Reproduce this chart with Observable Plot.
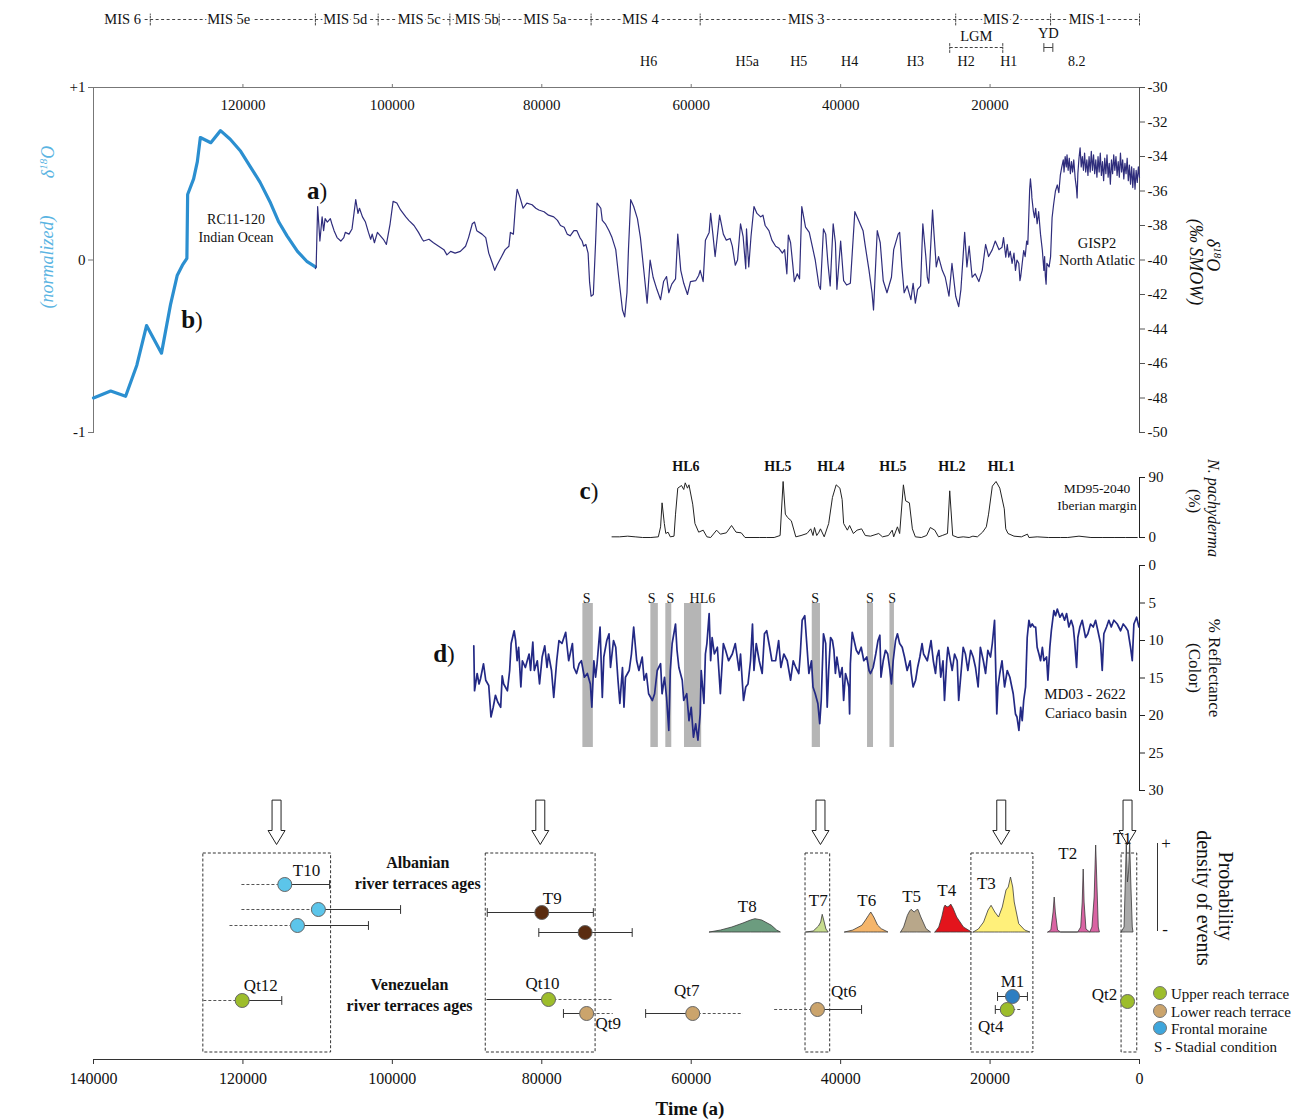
<!DOCTYPE html>
<html><head><meta charset="utf-8">
<script src="https://cdn.jsdelivr.net/npm/d3@7"></script>
<script src="https://cdn.jsdelivr.net/npm/@observablehq/plot@0.6"></script>
<style>
body{margin:0;background:#fff;}
#root{position:relative;width:1307px;height:1119px;overflow:hidden;background:#fff;font-family:"Liberation Serif","Times New Roman",serif;color:#111;}
#root svg{position:absolute;left:0;overflow:visible;background:transparent;}
.lbl{position:absolute;white-space:nowrap;line-height:1;}
</style></head><body><div id="root"></div>
<script>
// ---------------- DATA (ages in ka) ----------------
const misLabels = ["MIS 6","MIS 5e","MIS 5d","MIS 5c","MIS 5b","MIS 5a","MIS 4","MIS 3","MIS 2","MIS 1"];
const misCenters = [136.1, 121.9, 106.3, 96.4, 88.7, 79.6, 66.8, 44.6, 18.5, 7.0];
const misBounds = [132.4, 110.3, 101.9, 92.3, 85.7, 73.4, 58.8, 24.6, 11.9, 0];
const heinrichLabels = ["H6","H5a","H5","H4","H3","H2","H1","8.2"];
const heinrichAges = [65.7, 52.5, 45.6, 38.8, 30.0, 23.2, 17.5, 8.4];
const lgmSpan = [25.4, 18.3];
const ydSpan = [12.8, 11.6];
const topTicks = [120, 100, 80, 60, 40, 20];
const bottomTicks = [140, 120, 100, 80, 60, 40, 20, 0];

// b) RC11-120 Indian Ocean (normalized d18O)
const rc11Age = [140.0,137.7,135.7,134.2,132.9,130.9,129.7,128.8,128.1,127.5,127.4,126.6,126.1,125.7,124.3,123.0,121.7,120.3,119.0,117.7,116.3,115.2,114.1,112.7,111.4,110.3];
const rc11D18O = [-0.80,-0.76,-0.79,-0.61,-0.38,-0.54,-0.26,-0.09,-0.03,0.01,0.38,0.47,0.57,0.71,0.68,0.75,0.70,0.63,0.54,0.45,0.33,0.22,0.14,0.05,-0.01,-0.04];

// a) GISP2 d18O (permil SMOW)
const gisp2 = [
[110.3,-40.5],[110.2,-40.4],[110.0,-36.9],[109.7,-38.9],[109.4,-37.5],[109.2,-38.3],[109.0,-37.6],[108.7,-37.8],[108.3,-37.6],[108.1,-37.9],[107.8,-38.3],[107.4,-38.7],[106.9,-38.9],[106.5,-38.7],[106.3,-38.4],[105.8,-38.5],[105.4,-38.2],[104.9,-36.5],[104.6,-37.3],[104.4,-37.0],[104.0,-37.5],[103.6,-37.8],[103.2,-38.4],[102.9,-38.8],[102.7,-38.5],[102.4,-39.0],[102.0,-38.4],[101.6,-38.6],[101.2,-38.8],[100.8,-39.1],[100.3,-37.9],[99.9,-36.6],[99.4,-36.7],[98.9,-37.1],[98.2,-37.5],[97.8,-37.7],[97.1,-38.0],[96.5,-38.4],[96.0,-38.8],[95.8,-38.9],[95.1,-38.8],[94.5,-39.0],[93.8,-39.2],[93.1,-39.4],[92.7,-39.7],[92.2,-39.5],[91.6,-39.6],[90.9,-39.5],[90.2,-39.2],[89.8,-38.7],[89.3,-37.9],[89.0,-37.8],[88.7,-38.3],[88.0,-38.5],[87.5,-38.7],[87.1,-39.6],[86.6,-40.2],[86.3,-40.6],[86.0,-40.3],[85.5,-39.9],[84.9,-39.4],[84.4,-39.2],[84.2,-38.4],[83.8,-38.5],[83.5,-36.7],[83.3,-35.9],[82.9,-36.4],[82.5,-37.0],[82.0,-36.7],[81.3,-36.8],[80.8,-37.0],[80.4,-37.1],[79.7,-37.2],[79.1,-37.4],[78.4,-37.5],[77.9,-37.7],[77.5,-38.0],[77.0,-38.1],[76.6,-38.5],[76.2,-38.6],[75.7,-38.3],[75.3,-38.3],[74.9,-38.7],[74.6,-38.9],[74.4,-39.2],[74.1,-39.1],[73.8,-39.6],[73.6,-41.3],[73.4,-42.1],[73.1,-42.0],[72.8,-39.0],[72.6,-36.7],[72.1,-37.0],[71.9,-37.7],[71.5,-37.9],[71.0,-38.3],[70.6,-38.7],[70.1,-39.4],[69.7,-41.0],[69.2,-42.9],[68.9,-43.3],[68.6,-41.9],[68.4,-39.4],[68.1,-36.5],[67.7,-36.9],[67.2,-37.6],[66.8,-38.7],[66.3,-40.8],[65.9,-42.5],[65.5,-40.0],[65.1,-41.0],[64.6,-41.7],[64.1,-42.3],
[63.7,-41.25],[63.3,-40.96],[63.0,-41.9],[62.6,-41.4],[62.1,-41.1],[61.8,-38.5],[61.4,-40.6],[61.0,-41.35],[60.5,-42.0],[60.1,-41.25],[59.4,-41.2],[59.0,-40.9],[58.8,-40.6],[58.4,-41.25],[58.1,-38.85],[57.6,-38.4],[57.4,-37.3],[57.1,-38.5],[56.8,-39.8],[56.2,-37.4],[55.7,-38.5],[55.3,-38.85],[54.8,-38.75],[54.5,-39.2],[54.1,-40.3],[53.8,-40.0],[53.4,-37.9],[53.05,-38.65],[52.7,-40.5],[52.6,-38.2],[52.3,-40.4],[52.0,-38.65],[51.6,-36.9],[51.2,-37.3],[50.7,-37.5],[50.4,-37.4],[50.1,-38.0],[49.6,-38.3],[49.2,-38.85],[48.7,-39.2],[48.3,-39.3],[47.8,-39.6],[47.5,-39.4],[47.2,-40.8],[47.0,-38.55],[46.7,-39.0],[46.4,-40.3],[46.2,-41.25],[45.8,-40.8],[45.5,-41.1],[45.2,-36.9],[44.7,-38.1],[44.2,-38.4],[43.8,-39.2],[43.4,-40.0],[42.9,-41.5],[42.7,-41.7],[42.3,-38.2],[42.0,-38.5],[41.7,-40.2],[41.4,-41.5],[41.0,-37.9],[40.7,-39.0],[40.5,-41.7],[40.0,-38.9],[39.6,-41.2],[39.2,-41.45],[38.7,-41.35],[38.1,-37.2],[37.6,-37.7],[37.0,-38.3],[36.7,-39.2],[36.2,-40.6],[35.8,-41.9],[35.6,-42.9],[35.1,-38.3],[34.7,-39.0],[34.3,-41.2],[33.8,-41.9],[33.2,-41.0],[32.9,-39.4],[32.3,-38.5],[32.1,-38.4],[31.8,-40.4],[31.5,-41.9],[31.1,-41.5],[30.6,-42.3],[30.3,-41.35],[30.0,-42.5],[29.7,-41.7],[29.3,-41.5],[29.0,-37.9],[28.6,-39.8],[28.4,-41.0],[28.2,-41.35],[27.7,-37.1],[27.5,-38.5],[27.2,-40.4],[26.9,-39.8],[26.4,-40.6],[26.0,-41.0],[25.5,-42.1],[25.1,-40.2],[24.6,-42.1],[24.2,-42.7],[23.9,-41.7],[23.4,-38.4],[23.1,-40.4],[22.8,-39.2],[22.4,-41.0],[22.0,-40.8],[21.5,-41.25],[21.05,-40.6],[20.6,-39.1],[20.2,-39.8],[19.7,-39.4],[19.3,-38.9],[18.8,-39.4],
[18.4,-39.26],[18.2,-38.7],[17.9,-39.83],[17.7,-39.1],[17.5,-39.83],[17.3,-39.5],[17.05,-40.2],[16.8,-39.6],[16.6,-40.6],[16.4,-40.0],[16.15,-40.2],[16.0,-41.2],[15.9,-40.96],[15.7,-40.2],[15.5,-39.45],[15.3,-39.8],[15.1,-38.9],[14.95,-39.1],[14.8,-37.2],[14.7,-35.9],[14.6,-35.3],[14.45,-36.0],[14.4,-36.4],[14.2,-37.2],[14.05,-37.55],[13.9,-37.0],[13.7,-37.9],[13.5,-37.2],[13.25,-38.5],[13.0,-39.45],[12.8,-40.6],[12.7,-39.8],[12.6,-40.96],[12.5,-41.4],[12.4,-40.2],[12.1,-40.4],[11.9,-39.8],[11.7,-37.55],[11.5,-36.8],[11.25,-36.0],[11.0,-35.65],[10.8,-36.1],[10.6,-35.1],
[10.4,-34.6],[10.2,-34.2],[10.1,-34.9],[9.95,-34.0],[9.8,-34.6],[9.7,-33.9],[9.55,-34.8],[9.4,-34.1],[9.25,-35.0],[9.1,-34.3],[8.95,-34.9],[8.8,-34.2],[8.6,-35.3],[8.45,-35.8],[8.35,-36.4],[8.25,-35.0],[8.1,-34.1],[7.95,-33.5],[7.8,-34.6],[7.65,-34.0],[7.5,-34.8],[7.35,-33.8],[7.2,-34.9],[7.05,-34.2],[6.9,-35.1],[6.75,-34.0],[6.6,-34.9],[6.45,-33.7],[6.3,-34.8],[6.15,-33.9],[6.0,-35.0],[5.85,-34.2],[5.7,-35.2],[5.55,-34.0],[5.4,-34.9],[5.25,-33.8],[5.1,-35.1],[4.95,-34.3],[4.8,-35.4],[4.65,-34.1],[4.5,-35.0],[4.35,-33.9],[4.2,-35.2],[4.05,-34.4],[3.9,-35.6],[3.75,-34.2],[3.6,-35.0],[3.45,-33.9],[3.3,-34.8],[3.15,-34.0],[3.0,-35.1],[2.85,-34.3],[2.7,-35.2],[2.55,-33.8],[2.4,-34.9],[2.25,-34.2],[2.1,-35.3],[1.95,-34.4],[1.8,-35.0],[1.65,-34.1],[1.5,-35.4],[1.35,-34.5],[1.2,-35.6],[1.05,-34.6],[0.9,-35.8],[0.75,-34.7],[0.6,-35.9],[0.45,-34.8],[0.3,-35.5],[0.15,-34.6],[0.0,-35.2]
];

// c) MD95-2040 N. pachyderma (%)
const md95 = [
[70.6,1],[69.6,1],[68.5,2],[67.5,1],[66.5,0],[65.4,0],[64.4,1],[64.1,16],[63.9,52],[63.6,21],[63.4,6],[63.1,8],[62.8,1],[62.3,2],[62.1,35],[61.8,74],[61.3,78],[61.0,72],[60.8,82],[60.5,74],[60.3,79],[59.8,50],[59.5,21],[59.0,8],[58.4,11],[57.9,1],[57.4,0],[56.6,11],[56.1,5],[55.3,7],[54.6,18],[54.0,8],[53.3,7],[52.8,0],[52.0,0],[50.9,0],[49.9,0],[48.9,0],[48.1,3],[47.7,84],[47.4,35],[47.1,30],[46.6,25],[46.0,1],[45.3,3],[44.5,6],[44.0,13],[43.7,3],[43.5,15],[43.2,3],[42.9,8],[42.7,13],[42.2,1],[41.6,21],[41.1,60],[40.6,79],[40.1,74],[39.8,57],[39.6,21],[39.1,11],[38.8,18],[38.3,6],[37.8,11],[37.2,13],[36.7,3],[36.0,2],[34.9,6],[34.4,1],[33.6,3],[33.1,11],[32.9,1],[32.4,16],[32.1,6],[31.6,79],[31.3,55],[30.8,52],[30.4,13],[30.0,1],[29.2,0],[28.5,3],[28.0,15],[27.4,11],[26.9,1],[26.4,3],[25.7,6],[25.4,70],[25.0,3],[24.3,0],[23.6,1],[22.8,0],[22.3,2],[21.7,1],[21.0,8],[20.5,16],[20.2,35],[19.7,77],[19.2,84],[18.7,74],[18.1,43],[17.9,13],[17.6,6],[16.8,2],[15.8,1],[15.0,5],[14.8,0],[13.7,1],[12.2,0],[10.6,0],[9.6,0],[8.1,2],[6.5,0],[5.0,0],[3.4,0],[1.9,0],[0.3,0]
];
const hlLabels = ["HL6","HL5","HL4","HL5","HL2","HL1"];
const hlAges = [60.7, 48.4, 41.3, 33.0, 25.1, 18.5];

// d) MD03-2622 Cariaco basin reflectance (%)
const cariaco = [
[89.1,10.7],[89.0,16.7],[88.65,14.4],[88.4,15.8],[88.2,15.1],[87.8,13.1],[87.5,15.3],[87.1,16.0],[86.8,20.2],[86.5,18.9],[86.2,17.3],[85.9,18.2],[85.5,18.9],[85.3,14.7],[85.1,15.8],[84.6,16.7],[84.3,14.0],[84.1,10.4],[83.7,8.7],[83.5,10.0],[83.3,12.7],[83.1,10.9],[82.8,16.2],[82.6,12.7],[82.2,13.6],[81.7,11.8],[81.5,14.0],[81.2,10.2],[81.0,14.0],[80.6,12.7],[80.3,15.8],[79.95,12.2],[79.6,10.7],[79.3,13.6],[79.1,11.8],[78.7,14.0],[78.4,17.6],[78.0,12.7],[77.7,10.0],[77.3,10.4],[76.8,8.9],[76.6,10.9],[76.4,12.7],[75.9,10.4],[75.7,13.6],[75.35,14.4],[75.0,13.1],[74.7,12.7],[74.3,14.9],[73.9,14.4],[73.5,15.8],[73.3,18.9],[73.03,12.7],[72.8,14.9],[72.6,13.1],[72.2,8.2],[71.9,17.6],[71.7,12.2],[71.3,10.0],[71.0,9.1],[70.8,13.6],[70.4,10.0],[70.1,10.9],[69.8,15.3],[69.55,18.4],[69.2,13.6],[69.0,18.9],[68.8,14.9],[68.3,14.0],[68.0,11.8],[67.7,8.2],[67.3,12.7],[67.0,14.0],[66.56,12.2],[66.3,15.3],[66.0,14.4],[65.7,17.1],[65.2,18.0],[64.9,17.1],[64.55,14.0],[64.1,13.1],[63.9,17.1],[63.57,14.9],[63.3,17.6],[63.0,22.0],[62.8,14.0],[62.55,10.4],[62.1,7.8],[61.9,11.3],[61.65,13.6],[61.2,15.3],[61.0,18.0],[60.6,17.1],[60.3,20.7],[60.0,18.9],[59.7,22.9],[59.4,21.1],[59.1,23.3],[58.8,19.8],[58.66,14.0],[58.3,18.4],[58.1,11.8],[57.9,10.4],[57.6,6.4],[57.4,12.7],[57.2,9.6],[56.9,11.8],[56.5,10.9],[56.1,17.1],[55.7,10.4],[55.4,11.3],[55.0,12.7],[54.5,11.8],[54.1,10.4],[53.6,14.0],[53.4,11.8],[53.0,18.0],[52.7,16.2],[52.4,15.8],[52.06,12.7],[51.8,7.8],[51.6,14.0],[51.3,10.4],[50.9,12.7],[50.5,14.4],[50.2,9.1],[49.9,8.7],[49.5,10.9],[49.2,12.7],[48.7,12.7],[48.3,10.0],[48.0,13.6],[47.6,11.8],[47.15,12.7],[46.7,15.3],[46.35,12.7],[46.0,13.6],[45.6,14.4],
[45.4,11.8],[45.15,7.3],[44.8,6.7],[44.5,10.9],[44.25,14.4],[43.9,12.7],[43.7,16.2],[43.4,17.1],[43.05,18.4],[42.8,21.1],[42.6,18.0],[42.3,9.1],[42.0,10.4],[41.8,18.9],[41.6,14.0],[41.35,9.6],[41.1,10.0],[40.9,11.3],[40.7,14.4],[40.5,12.2],[40.1,14.9],[39.8,13.6],[39.6,18.0],[39.35,14.4],[39.1,15.3],[38.9,16.2],[38.8,19.8],[38.7,13.1],[38.45,8.9],[38.2,10.0],[37.9,11.3],[37.6,11.8],[37.25,10.9],[36.9,12.7],[36.5,12.2],[36.2,14.0],[36.0,14.4],[35.65,13.6],[35.3,11.8],[35.0,10.0],[34.75,9.3],[34.6,14.9],[34.3,12.7],[34.0,11.3],[33.7,11.8],[33.4,14.0],[33.2,15.8],[32.97,12.7],[32.65,10.0],[32.4,9.1],[32.1,10.4],[31.76,10.9],[31.45,12.2],[31.1,14.0],[30.7,12.7],[30.55,14.4],[30.3,16.2],[29.97,15.3],[29.7,13.6],[29.4,12.2],[29.1,10.4],[28.9,11.8],[28.4,12.7],[28.06,10.9],[27.9,10.0],[27.6,12.7],[27.3,14.4],[27.1,12.2],[26.85,11.3],[26.6,14.9],[26.3,12.7],[26.1,18.0],[25.8,12.7],[25.65,10.9],[25.4,12.2],[25.07,14.0],[24.75,11.8],[24.4,12.7],[24.2,18.0],[23.86,14.0],[23.6,10.9],[23.3,11.8],[22.97,14.0],[22.6,11.3],[22.26,12.2],[21.95,13.6],[21.6,16.2],[21.3,10.9],[20.9,12.7],[20.6,14.4],[20.3,11.3],[19.94,12.2],[19.7,10.4],[19.4,7.3],[19.1,19.8],[18.95,16.2],[18.7,14.4],[18.4,12.7],[18.06,16.2],[17.7,14.0],[17.35,14.9],[17.17,15.8],[16.9,17.1],[16.6,19.8],[16.4,20.2],[16.14,22.0],[15.9,18.9],[15.7,20.7],[15.5,18.0],[15.25,16.2],[15.03,9.6],[14.8,7.3],[14.6,8.2],[14.36,7.8],[14.1,8.2],[13.9,8.2],[13.7,10.9],[13.46,11.8],[13.24,12.7],[13.0,10.9],[12.8,12.7],[12.44,12.2],[12.26,15.3],[12.0,10.9],[11.8,8.7],[11.46,6.0],[11.24,6.7],[11.0,5.8],[10.65,6.9],[10.34,6.4],[10.03,7.3],[9.76,6.4],[9.45,8.2],[9.14,7.3],[8.87,8.2],[8.69,10.0],[8.42,13.6],[8.25,9.6],[7.98,8.2],[7.67,7.3],[7.22,9.6],[6.91,9.1],[6.55,7.8],[6.19,8.2],[5.88,7.3],[5.57,8.7],[5.21,10.4],[4.99,14.0],[4.77,9.1],[4.41,8.2],[4.1,7.3],[3.78,8.2],[3.43,7.3],[2.98,7.8],[2.53,8.7],[2.18,7.8],[1.86,8.2],[1.55,8.7],[1.2,10.9],[0.97,12.7],[0.75,7.8],[0.39,6.9],[0.08,8.2]
];
const stadialStart = [74.5, 65.4, 63.4, 60.9, 43.8, 36.4, 33.4];
const stadialEnd   = [73.1, 64.4, 62.6, 58.6, 42.7, 35.6, 32.8];
const stadialLabels = ["S","S","S","HL6","S","S","S"];
const stadialLabelAges = [74.0, 65.3, 62.8, 58.5, 43.4, 36.1, 33.1];

// e) terraces
const terraces = [
 {id:"T10a", kind:"T10", age:114.4, older:120.2, olderLine:"dashed", olderCap:false, younger:108.4, youngerLine:"solid", youngerCap:true, row:0},
 {id:"T10b", kind:"T10", age:109.9, older:120.2, olderLine:"dashed", olderCap:false, younger:98.9, youngerLine:"solid", youngerCap:true, row:2},
 {id:"T10c", kind:"T10", age:112.7, older:121.8, olderLine:"dashed", olderCap:false, younger:103.2, youngerLine:"solid", youngerCap:true, row:3.28},
 {id:"T9a", kind:"T9", age:80.0, older:87.3, olderLine:"solid", olderCap:true, younger:73.1, youngerLine:"solid", youngerCap:true, row:2.24},
 {id:"T9b", kind:"T9", age:74.2, older:80.4, olderLine:"solid", olderCap:true, younger:67.9, youngerLine:"solid", youngerCap:true, row:3.84},
 {id:"Qt12", kind:"upper", age:120.1, older:125.3, olderLine:"dashed", olderCap:false, younger:114.8, youngerLine:"solid", youngerCap:true, row:9.28},
 {id:"Qt10", kind:"upper", age:79.1, older:87.4, olderLine:"solid", olderCap:false, younger:70.5, youngerLine:"dashed", youngerCap:false, row:9.2},
 {id:"Qt9", kind:"lower", age:74.0, older:77.1, olderLine:"solid", olderCap:true, younger:70.5, youngerLine:"dashed", youngerCap:false, row:10.32},
 {id:"Qt7", kind:"lower", age:59.8, older:66.1, olderLine:"solid", olderCap:true, younger:53.1, youngerLine:"dashed", youngerCap:false, row:10.32},
 {id:"Qt6", kind:"lower", age:43.1, older:48.9, olderLine:"dashed", olderCap:false, younger:37.2, youngerLine:"solid", youngerCap:true, row:10},
 {id:"M1", kind:"moraine", age:17.0, older:19.0, olderLine:"solid", olderCap:true, younger:15.0, youngerLine:"solid", youngerCap:true, row:8.96},
 {id:"Qt4", kind:"upper", age:17.7, older:19.3, olderLine:"solid", olderCap:true, younger:15.9, youngerLine:"dashed", youngerCap:false, row:10},
 {id:"Qt2", kind:"upper", age:1.6, older:null, olderLine:null, olderCap:false, younger:null, youngerLine:null, youngerCap:false, row:9.36}
];
const terraceLabels = [
 ["T10",111.5,-1.1],["T9",78.6,1.1],["Qt12",117.6,8.1],["Qt10",79.9,7.9],["Qt9",71.1,11.1],["Qt7",60.6,8.5],["Qt6",39.6,8.6],["M1",17.0,7.8],["Qt4",19.9,11.4],["Qt2",4.7,8.8],
 ["T8",52.5,1.8],["T7",43.0,1.3],["T6",36.5,1.3],["T5",30.5,1.0],["T4",25.8,0.5],["T3",20.5,-0.1],["T2",9.6,-2.5],["T1",2.3,-3.7]
];
const groupLabels = [["Albanian\nriver terraces ages",96.6,-1.0],["Venezuelan\nriver terraces ages",97.7,8.72]];
const highlightAges = [115.5, 80.2, 42.7, 18.5, 1.6];
const boxOlder = [125.3, 87.5, 44.7, 22.5, 2.4];
const boxYounger = [108.2, 72.8, 41.4, 14.2, 0.3];

const densT8 = [[57.5,0],[56.0,0.02],[54.5,0.05],[53.0,0.09],[52.0,0.12],[51.4,0.133],[50.5,0.12],[49.2,0.067],[48.5,0.02],[48.0,0]];
const densT7 = [[44.6,0],[43.6,0.01],[42.9,0.06],[42.6,0.1],[42.4,0.177],[42.2,0.12],[41.9,0.03],[41.6,0]];
const densT6 = [[39.4,0],[38.3,0.02],[37.1,0.067],[36.6,0.12],[36.2,0.167],[35.9,0.2],[35.5,0.15],[35.0,0.07],[34.5,0.033],[33.6,0]];
const densT5 = [[31.9,0],[31.5,0.05],[31.0,0.167],[30.7,0.21],[30.5,0.227],[30.1,0.2],[29.8,0.22],[29.6,0.227],[29.2,0.15],[28.5,0.033],[27.9,0]];
const densT4 = [[27.3,0],[26.8,0.05],[26.4,0.15],[26.1,0.25],[25.95,0.27],[25.7,0.25],[25.4,0.26],[25.2,0.28],[24.9,0.24],[24.4,0.15],[23.5,0.05],[22.4,0]];
const densT3 = [[22.2,0],[21.5,0.03],[20.8,0.1],[20.2,0.22],[19.8,0.267],[19.3,0.2],[18.8,0.15],[18.3,0.25],[17.8,0.42],[17.5,0.45],[17.2,0.55],[16.9,0.45],[16.7,0.3],[16.1,0.083],[15.3,0.02],[14.6,0]];
const densT2 = [[12.2,0],[11.8,0.02],[11.5,0.2],[11.35,0.35],[11.2,0.2],[10.9,0.02],[10.5,0],[8.2,0],[7.8,0.05],[7.6,0.3],[7.47,0.63],[7.35,0.3],[7.1,0.03],[6.6,0],[6.3,0.05],[6.0,0.35],[5.8,0.87],[5.6,0.4],[5.45,0.05],[5.3,0]];
const densT1 = [[2.4,0],[2.0,0.05],[1.8,0.6],[1.7,0.9],[1.55,0.5],[1.4,0.6],[1.25,0.9],[1.1,0.5],[0.9,0.05],[0.8,0]];

// ---------------- STYLES ----------------
const serif = '"Liberation Serif","Times New Roman",serif';
const kindColor = {T10:"#5cc5ea", T9:"#5a2c10", upper:"#9dbd2b", lower:"#cba46c", moraine:"#2d7ec2"};
const densSeries = [["T8",densT8,"#6c9c7f"],["T7",densT7,"#c7dc8e"],["T6",densT6,"#f4b56b"],["T5",densT5,"#b8a78a"],["T4",densT4,"#e3141c"],["T3",densT3,"#fff07a"],["T2",densT2,"#d964a3"],["T1",densT1,"#a9a9a9"]];
const ka = v => v * 1000;

const root = document.getElementById("root");
function place(svg, top) {
  svg.style.position = "absolute"; svg.style.top = top + "px"; svg.style.left = "0px";
  svg.style.overflow = "visible"; svg.style.background = "transparent";
  svg.style.fontFamily = serif; svg.style.fontSize = "15px"; svg.style.color = "#111";
  svg.style.maxWidth = "none";
  root.appendChild(svg); return svg;
}
function base(o) {
  return Object.assign({width: 1307, marginLeft: 93, marginRight: 168, x: {domain: [140000, 0], axis: null}}, o);
}
const vline = {draw(ctx, l) { ctx.moveTo(0, 0); ctx.lineTo(0, -l); }};
const hollowArrow = {draw(ctx, l) {
  const hw = 4.5, HW = 8.5, hl = 14;
  ctx.moveTo(-hw, 0); ctx.lineTo(-hw, -(l - hl)); ctx.lineTo(-HW, -(l - hl)); ctx.lineTo(0, -l);
  ctx.lineTo(HW, -(l - hl)); ctx.lineTo(hw, -(l - hl)); ctx.lineTo(hw, 0); ctx.closePath();
}};

// ---------------- HEADER ----------------
const row = r => () => r;
place(Plot.plot(base({
  height: 75, marginTop: 18, marginBottom: 13,
  y: {type: "point", domain: ["MIS","sub","bar","H"], padding: 0, axis: null},
  marks: [
    Plot.link([0], {x1: () => ka(misCenters[0]), x2: () => ka(misBounds[misBounds.length - 1]), y1: row("MIS"), y2: row("MIS"), stroke: "#444", strokeWidth: 1, strokeDasharray: "3,2.5"}),
    Plot.text(misLabels, {x: (d, i) => ka(misCenters[i]), y: row("MIS"), text: d => d, fill: "#111", stroke: "white", strokeWidth: 5, fontSize: 14.5}),
    Plot.vector(misBounds, {x: d => ka(d), y: row("MIS"), length: 11, anchor: "middle", shape: vline, stroke: "#444", strokeWidth: 1, strokeDasharray: "2,1.5"}),
    Plot.link([0], {x1: () => ka(lgmSpan[0]), x2: () => ka(lgmSpan[1]), y1: row("bar"), y2: row("bar"), stroke: "#444", strokeWidth: 1, strokeDasharray: "3,2"}),
    Plot.vector(lgmSpan, {x: d => ka(d), y: row("bar"), length: 10, anchor: "middle", shape: vline, stroke: "#444", strokeWidth: 1, strokeDasharray: "2,1.5"}),
    Plot.text(["LGM"], {x: () => ka((lgmSpan[0] + lgmSpan[1]) / 2), y: row("sub"), text: d => d, fill: "#111", fontSize: 14.5, dy: 3}),
    Plot.link([0], {x1: () => ka(ydSpan[0]), x2: () => ka(ydSpan[1]), y1: row("bar"), y2: row("bar"), stroke: "#444", strokeWidth: 1}),
    Plot.vector(ydSpan, {x: d => ka(d), y: row("bar"), length: 8, anchor: "middle", shape: vline, stroke: "#444", strokeWidth: 1}),
    Plot.text(["YD"], {x: () => ka((ydSpan[0] + ydSpan[1]) / 2), y: row("sub"), text: d => d, fill: "#111", fontSize: 14.5}),
    Plot.text(heinrichLabels, {x: (d, i) => ka(heinrichAges[i]), y: row("H"), text: d => d, fill: "#111", fontSize: 14})
  ]
})), 0);

// ---------------- PANEL b (RC11-120, left axis) ----------------
place(Plot.plot(base({
  height: 360, marginTop: 7, marginBottom: 8,
  y: {domain: [-1, 1], axis: null},
  marks: [
    Plot.frame({anchor: "top", stroke: "#777"}),
    Plot.frame({anchor: "left", stroke: "#777"}),
    Plot.axisX({anchor: "top", ticks: topTicks.map(ka), tickSize: 4, tickPadding: -26, tickFormat: d => String(d), stroke: "#777", fontSize: 15}),
    Plot.axisY({anchor: "left", ticks: [-1, 0, 1], tickSize: 5, tickPadding: 3, tickFormat: d => d > 0 ? "+" + d : String(d), stroke: "#777", fontSize: 15}),
    Plot.line(rc11Age, {x: d => ka(d), y: (d, i) => rc11D18O[i], stroke: "#2b8fd0", strokeWidth: 3.2, strokeLinejoin: "round"})
  ]
})), 80);

// ---------------- PANEL a (GISP2, right axis) ----------------
place(Plot.plot(base({
  height: 360, marginTop: 7, marginBottom: 8,
  y: {domain: [-50, -30], axis: null},
  marks: [
    Plot.frame({anchor: "right", stroke: "#555"}),
    Plot.axisY({anchor: "right", ticks: d3.range(-50, -29, 2), tickSize: 5, tickPadding: 3, tickFormat: d => String(d), stroke: "#555", fontSize: 15}),
    Plot.line(gisp2, {x: d => ka(d[0]), y: d => d[1], stroke: "#2f2d7c", strokeWidth: 1.2, strokeLinejoin: "round"})
  ]
})), 80);

// ---------------- PANEL c (MD95-2040) ----------------
place(Plot.plot(base({
  height: 110, marginTop: 37, marginBottom: 13,
  y: {domain: [0, 90], axis: null},
  marks: [
    Plot.frame({anchor: "right", stroke: "#222"}),
    Plot.axisY({anchor: "right", ticks: [0, 90], tickSize: 5, tickPadding: 4, tickFormat: d => String(d), stroke: "#222", fontSize: 15}),
    Plot.line(md95, {x: d => ka(d[0]), y: d => d[1], stroke: "#222", strokeWidth: 1, strokeLinejoin: "round"}),
    Plot.text(hlLabels, {x: (d, i) => ka(hlAges[i]), frameAnchor: "top", dy: -16, text: d => d, fontWeight: "bold", fontSize: 14, fill: "#111"})
  ]
})), 440);

// ---------------- PANEL d stadial bands ----------------
place(Plot.plot(base({
  height: 170, marginTop: 13, marginBottom: 13,
  y: {axis: null},
  marks: [
    Plot.rect(stadialStart, {x1: d => ka(d), x2: (d, i) => ka(stadialEnd[i]), fill: "#b5b5b5"}),
    Plot.text(stadialLabels, {x: (d, i) => ka(stadialLabelAges[i]), frameAnchor: "top", dy: -10, text: d => d, fontSize: 14, fill: "#111"})
  ]
})), 590);

// ---------------- PANEL d (Cariaco) ----------------
place(Plot.plot(base({
  height: 260, marginTop: 15, marginBottom: 20,
  y: {domain: [0, 30], reverse: true, axis: null},
  marks: [
    Plot.frame({anchor: "right", stroke: "#222"}),
    Plot.axisY({anchor: "right", ticks: d3.range(0, 31, 5), tickSize: 5, tickPadding: 4, tickFormat: d => String(d), stroke: "#222", fontSize: 15}),
    Plot.line(cariaco, {x: d => ka(d[0]), y: d => d[1], stroke: "#232985", strokeWidth: 1.7, strokeLinejoin: "round"})
  ]
})), 550);

// ---------------- PANEL e: dashed boxes ----------------
place(Plot.plot(base({
  height: 215, marginTop: 8, marginBottom: 8,
  y: {axis: null},
  marks: [
    Plot.rect(boxOlder, {x1: d => ka(d), x2: (d, i) => ka(boxYounger[i]), fill: "none", stroke: "#333", strokeWidth: 1, strokeDasharray: "3,2"})
  ]
})), 845);

// ---------------- PANEL e: probability densities ----------------
place(Plot.plot(base({
  height: 100, marginTop: 0, marginBottom: 0,
  y: {domain: [0, 1], axis: null},
  marks: densSeries.map(([id, pts, color]) =>
    Plot.areaY(pts, {x: d => ka(d[0]), y: d => d[1], fill: color, stroke: "#3a3a3a", strokeWidth: 0.8}))
})), 832);

// ---------------- PANEL e: terrace ages ----------------
const segs = terraces.flatMap(t => [
  t.olderLine && {x1: t.older, x2: t.age, row: t.row, line: t.olderLine},
  t.youngerLine && {x1: t.age, x2: t.younger, row: t.row, line: t.youngerLine}
]).filter(Boolean);
const caps = terraces.flatMap(t => [
  t.olderCap && {age: t.older, row: t.row},
  t.youngerCap && {age: t.younger, row: t.row}
]).filter(Boolean);
place(Plot.plot(base({
  height: 329, marginTop: 10, marginBottom: 60,
  y: {domain: [-6.72, 14], reverse: true, axis: null},
  marks: [
    Plot.frame({anchor: "bottom", stroke: "#333"}),
    Plot.axisX({anchor: "bottom", ticks: bottomTicks.map(ka), tickSize: 5, tickPadding: 8, tickFormat: d => String(d), stroke: "#333", fontSize: 16}),
    Plot.vector(highlightAges, {x: d => ka(d), frameAnchor: "top", length: 44, rotate: 180, anchor: "start", shape: hollowArrow, fill: "white", stroke: "#222", strokeWidth: 1}),
    Plot.link(segs.filter(s => s.line === "dashed"), {x1: d => ka(d.x1), x2: d => ka(d.x2), y1: "row", y2: "row", stroke: "#555", strokeWidth: 1, strokeDasharray: "3,2"}),
    Plot.link(segs.filter(s => s.line === "solid"), {x1: d => ka(d.x1), x2: d => ka(d.x2), y1: "row", y2: "row", stroke: "#333", strokeWidth: 1}),
    Plot.vector(caps, {x: d => ka(d.age), y: "row", length: 8, anchor: "middle", shape: vline, stroke: "#333", strokeWidth: 1}),
    Plot.dot(terraces, {x: d => ka(d.age), y: "row", r: 7, fill: d => kindColor[d.kind], stroke: "#666", strokeWidth: 1}),
    Plot.text(terraceLabels, {x: d => ka(d[1]), y: d => d[2], text: d => d[0], fontSize: 17, fill: "#111"}),
    Plot.text(groupLabels, {x: d => ka(d[1]), y: d => d[2], text: d => d[0], fontSize: 16, fontWeight: "bold", lineHeight: 1.3, fill: "#111"})
  ]
})), 790);

// ---------------- HTML annotations ----------------
function lab(html, x, y, o = {}) {
  const d = document.createElement("div");
  d.className = "lbl"; d.innerHTML = html;
  d.style.left = x + "px"; d.style.top = y + "px";
  d.style.fontSize = (o.size || 15) + "px";
  if (o.bold) d.style.fontWeight = "bold";
  if (o.italic) d.style.fontStyle = "italic";
  if (o.color) d.style.color = o.color;
  const ax = o.anchor === "start" ? "0" : o.anchor === "end" ? "-100%" : "-50%";
  d.style.transform = `translate(${ax},-50%)` + (o.rotate ? ` rotate(${o.rotate}deg)` : "");
  d.style.textAlign = o.align || "center";
  root.appendChild(d); return d;
}
const letter = c => `<b style="font-size:25px">${c}</b><span style="font-size:23px">)</span>`;
lab(letter("a"), 317, 190);
lab(letter("b"), 192, 319);
lab(letter("c"), 589, 490);
lab(letter("d"), 444, 653);
lab("RC11-120", 236, 220, {size: 14});
lab("Indian Ocean", 236, 238, {size: 14});
lab("GISP2", 1097, 243, {size: 14.5});
lab("North Atlatic", 1097, 260, {size: 14.5});
lab("MD95-2040", 1097, 489, {size: 13.5});
lab("Iberian margin", 1097, 506, {size: 13.5});
lab("MD03 - 2622", 1085, 694, {size: 15});
lab("Cariaco basin", 1086, 713, {size: 15});
// axis titles
lab("δ<sup style='font-size:11px'>18</sup>O", 47, 162, {size: 18, italic: true, color: "#5ab4e2", rotate: -90});
lab("(normalized)", 47, 262, {size: 18, italic: true, color: "#5ab4e2", rotate: -90});
lab("δ<sup style='font-size:11px'>18</sup>O", 1213, 255, {size: 18, italic: true, rotate: 90});
lab("(‰ SMOW)", 1196, 262, {size: 18, italic: true, rotate: 90});
lab("N. pachyderma", 1213, 508, {size: 16, italic: true, rotate: 90});
lab("(%)", 1194, 501, {size: 16, rotate: 90});
lab("% Reflectance", 1214, 668, {size: 17, rotate: 90});
lab("(Color)", 1194, 668, {size: 17, rotate: 90});
lab("Probability", 1226, 896, {size: 20, rotate: 90});
lab("density of events", 1204, 898, {size: 20, rotate: 90});
lab("+", 1166, 843, {size: 17, color: "#111"});
lab("-", 1165, 929, {size: 17, color: "#111"});
const pline = document.createElement("div");
Object.assign(pline.style, {position: "absolute", left: "1157px", top: "843px", width: "1px", height: "88px", background: "#333"});
root.appendChild(pline);
lab("Time (a)", 690, 1108, {size: 19, bold: true});
// legend
const legendItems = [["Upper reach terrace", kindColor.upper], ["Lower reach terrace", kindColor.lower], ["Frontal moraine", "#3ea6dc"]];
legendItems.forEach(([t, c], i) => {
  lab(`<span style="display:inline-block;width:12px;height:12px;border-radius:50%;background:${c};border:1px solid #777;vertical-align:-1px;margin-right:4px"></span>${t}`, 1153, 994 + i * 17.7, {size: 15, anchor: "start", align: "left"});
});
lab("S - Stadial condition", 1154, 1047, {size: 15, anchor: "start", align: "left"});
</script></body></html>
